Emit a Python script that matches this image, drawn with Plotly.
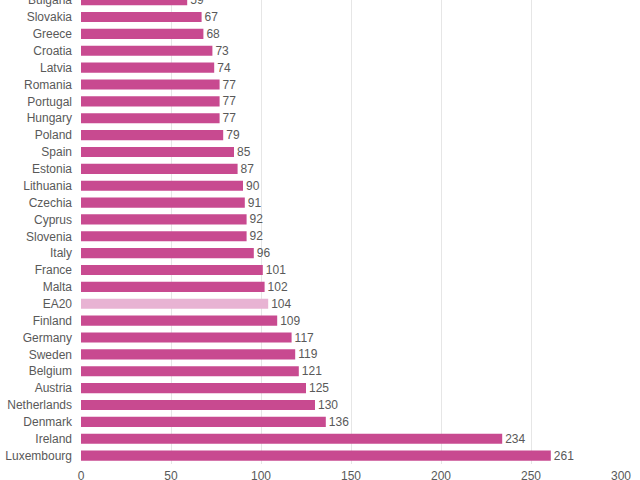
import plotly.graph_objects as go

countries = ["Bulgaria", "Slovakia", "Greece", "Croatia", "Latvia", "Romania", "Portugal",
             "Hungary", "Poland", "Spain", "Estonia", "Lithuania", "Czechia", "Cyprus",
             "Slovenia", "Italy", "France", "Malta", "EA20", "Finland", "Germany", "Sweden",
             "Belgium", "Austria", "Netherlands", "Denmark", "Ireland", "Luxembourg"]
values = [59, 67, 68, 73, 74, 77, 77, 77, 79, 85, 87, 90, 91, 92, 92, 96, 101, 102, 104,
          109, 117, 119, 121, 125, 130, 136, 234, 261]
x_ticks = [0, 50, 100, 150, 200, 250, 300]

MAIN = "#C84A90"
HIGHLIGHT = "#E8B3D3"
FONT = "Liberation Sans, Arial, sans-serif"

cats = countries[::-1]
vals = values[::-1]
colors = [HIGHLIGHT if c == "EA20" else MAIN for c in cats]

fig = go.Figure(go.Bar(
    y=cats, x=vals, orientation="h",
    marker=dict(color=colors, line=dict(width=0)),
    text=[str(v) for v in vals], textposition="outside",
    constraintext="none",
    textfont=dict(size=12, color="#595959", family=FONT),
    cliponaxis=False,
))

fig.update_layout(
    width=640, height=480,
    margin=dict(l=81, r=19, t=0, b=16),
    plot_bgcolor="white", paper_bgcolor="white",
    bargap=0.4,
    showlegend=False,
    font=dict(family=FONT, size=12, color="#595959"),
)
fig.update_xaxes(range=[0, 300], tickvals=x_ticks, showgrid=True, gridcolor="#E6E6E6",
                 gridwidth=1, zeroline=False, showline=False, ticks="", automargin=False,
                 ticklabelstandoff=3)
fig.update_yaxes(type="category", categoryorder="array", categoryarray=cats,
                 range=[-0.5, len(cats) - 1 + 0.01], showgrid=False, ticks="",
                 ticklabelstandoff=8, showline=False, automargin=False)

fig.write_html("out.html", config={"displayModeBar": False},
               post_script="document.body.style.margin='0';document.body.style.overflow='hidden';")
